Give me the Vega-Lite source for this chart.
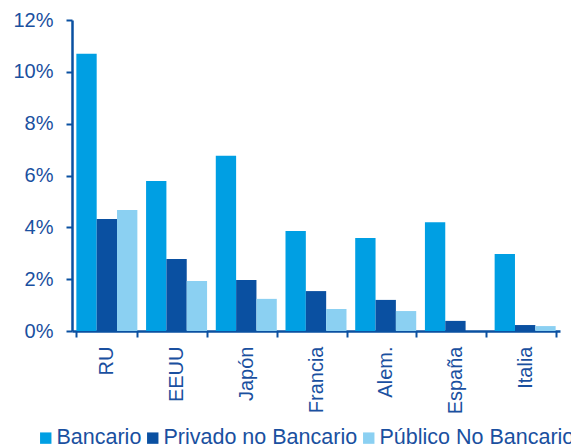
{
  "$schema": "https://vega.github.io/schema/vega-lite/v6.json",
  "width": 488,
  "height": 311,
  "autosize": "none",
  "padding": {"left": 72, "top": 20, "right": 11, "bottom": 115},
  "background": "white",
  "data": {
    "values": [
      {"pais": "RU", "tipo": "Bancario", "valor": 0.107},
      {"pais": "RU", "tipo": "Privado no Bancario", "valor": 0.0432},
      {"pais": "RU", "tipo": "Público No Bancario", "valor": 0.0467},
      {"pais": "EEUU", "tipo": "Bancario", "valor": 0.0579},
      {"pais": "EEUU", "tipo": "Privado no Bancario", "valor": 0.0278},
      {"pais": "EEUU", "tipo": "Público No Bancario", "valor": 0.0193},
      {"pais": "Japón", "tipo": "Bancario", "valor": 0.0676},
      {"pais": "Japón", "tipo": "Privado no Bancario", "valor": 0.0197},
      {"pais": "Japón", "tipo": "Público No Bancario", "valor": 0.0124},
      {"pais": "Francia", "tipo": "Bancario", "valor": 0.0386},
      {"pais": "Francia", "tipo": "Privado no Bancario", "valor": 0.0154},
      {"pais": "Francia", "tipo": "Público No Bancario", "valor": 0.0085},
      {"pais": "Alem.", "tipo": "Bancario", "valor": 0.0359},
      {"pais": "Alem.", "tipo": "Privado no Bancario", "valor": 0.012},
      {"pais": "Alem.", "tipo": "Público No Bancario", "valor": 0.0077},
      {"pais": "España", "tipo": "Bancario", "valor": 0.042},
      {"pais": "España", "tipo": "Privado no Bancario", "valor": 0.0039},
      {"pais": "España", "tipo": "Público No Bancario", "valor": 0},
      {"pais": "Italia", "tipo": "Bancario", "valor": 0.0297},
      {"pais": "Italia", "tipo": "Privado no Bancario", "valor": 0.0023},
      {"pais": "Italia", "tipo": "Público No Bancario", "valor": 0.0019}
    ]
  },
  "mark": {"type": "bar"},
  "encoding": {
    "x": {
      "field": "pais",
      "type": "nominal",
      "sort": null,
      "scale": {"paddingInner": 0.125, "paddingOuter": 0.0625},
      "axis": {
        "title": null,
        "labelAngle": -90,
        "labelFont": "Liberation Sans",
        "labelFontSize": 20,
        "labelColor": "#1A50A0",
        "labelPadding": 9,
        "tickBand": "extent",
        "tickColor": "#0A50A1",
        "tickWidth": 2,
        "tickSize": 6,
        "domainColor": "#0A50A1",
        "domainWidth": 2.5
      }
    },
    "xOffset": {"field": "tipo", "type": "nominal", "sort": null},
    "y": {
      "field": "valor",
      "type": "quantitative",
      "scale": {"domain": [0, 0.12], "nice": false},
      "axis": {
        "title": null,
        "values": [0, 0.02, 0.04, 0.06, 0.08, 0.1, 0.12],
        "format": ".0%",
        "grid": false,
        "labelFont": "Liberation Sans",
        "labelFontSize": 20,
        "labelColor": "#1A50A0",
        "labelPadding": 13,
        "tickColor": "#0A50A1",
        "tickWidth": 2,
        "tickSize": 6,
        "domainColor": "#0A50A1",
        "domainWidth": 2.5
      }
    },
    "color": {
      "field": "tipo",
      "type": "nominal",
      "sort": null,
      "scale": {
        "domain": ["Bancario", "Privado no Bancario", "Público No Bancario"],
        "range": ["#009FE3", "#0A50A1", "#8BD0F2"]
      },
      "legend": {
        "title": null,
        "orient": "none",
        "direction": "horizontal",
        "legendX": -37,
        "legendY": 407,
        "padding": 0,
        "symbolType": "square",
        "symbolSize": 130,
        "symbolStrokeWidth": 0,
        "symbolOpacity": 1,
        "labelFont": "Liberation Sans",
        "labelFontSize": 21.5,
        "labelColor": "#1A50A0",
        "labelOffset": 0,
        "columnPadding": 0,
        "labelLimit": 400
      }
    }
  },
  "config": {"view": {"stroke": null}}
}
